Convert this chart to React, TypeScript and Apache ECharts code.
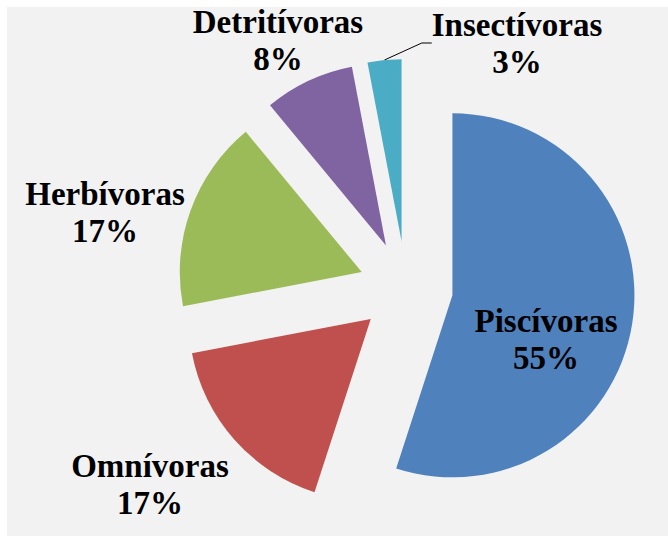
import React, { useEffect, useRef } from "react";
import * as echarts from "echarts";

const categories = ["Piscívoras", "Omnívoras", "Herbívoras", "Detritívoras", "Insectívoras"];
const values = [55, 17, 17, 8, 3];
const colors = ["#4F81BD", "#C0504D", "#9BBB59", "#8064A2", "#4BACC6"];

// label block centres (chart px) per slice
const labelPos: [number, number][] = [
  [546, 339],
  [150, 484],
  [105, 212],
  [278, 40],
  [517, 43],
];

const CX = 406;
const CY = 288;
const R = 182;
const EXPLODE = 47;

export default function App() {
  const ref = useRef<HTMLDivElement>(null);
  useEffect(() => {
    if (!ref.current) return;
    const chart = echarts.init(ref.current, null, { renderer: "svg" });
    const total = values.reduce((a, b) => a + b, 0);
    let acc = 0;
    const mids = values.map((v) => {
      const m = ((acc + v / 2) / total) * Math.PI * 2;
      acc += v;
      return m;
    });
    const series = categories.map((_, s) => ({
      type: "pie",
      center: [CX + EXPLODE * Math.sin(mids[s]), CY - EXPLODE * Math.cos(mids[s])],
      radius: R,
      startAngle: 90,
      clockwise: true,
      silent: true,
      avoidLabelOverlap: false,
      emphasis: { disabled: true },
      itemStyle: { borderWidth: 0 },
      data: categories.map((name, i) => ({
        name,
        value: values[i],
        itemStyle: i === s ? { color: colors[i], borderWidth: 0 } : { color: "rgba(0,0,0,0)", borderWidth: 0 },
        label: { show: i === s, position: i === 0 ? "inside" : "outside" },
        labelLine: { show: i === s && i === 4 },
      })),
      label: {
        formatter: (p: any) => `${p.name}\n${p.value}%`,
        fontFamily: "Liberation Serif",
        fontWeight: "bold",
        fontSize: 33,
        lineHeight: 37,
        color: "#000",
        align: "center",
      },
      labelLine: {
        lineStyle: { color: "#000", width: 1 },
        length: 10,
        length2: 10,
      },
      labelLayout: (params: any) => {
        if (params.dataIndex !== s) return {};
        const [x, y] = labelPos[params.dataIndex];
        return { x, y, align: "center", verticalAlign: "middle" };
      },
    }));
    chart.setOption({
      animation: false,
      backgroundColor: "#FFFFFF",
      graphic: {
        elements: [
          {
            type: "rect",
            z: -10,
            silent: true,
            shape: { x: 7, y: 7, width: 661, height: 529 },
            style: { fill: "#F2F2F2" },
          },
        ],
      },
      series,
    });
    return () => chart.dispose();
  }, []);
  return (
    <div
      ref={ref}
      style={{ position: "absolute", left: 0, top: 0, width: 668, height: 536 }}
    />
  );
}
